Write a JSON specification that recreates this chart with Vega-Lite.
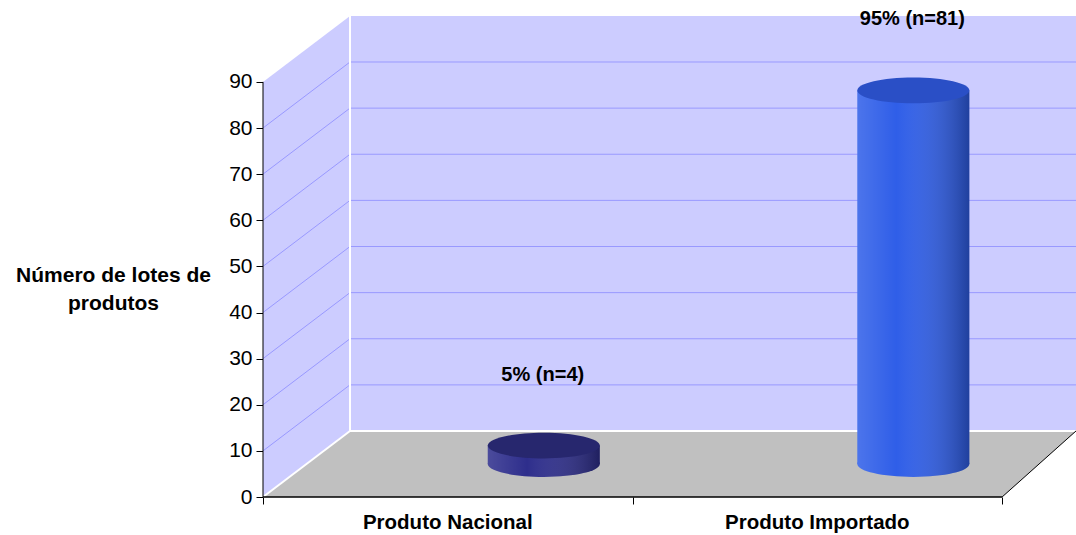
{
  "$schema": "https://vega.github.io/schema/vega-lite/v6.json",
  "width": 813,
  "height": 482,
  "autosize": {"type": "none"},
  "padding": {"left": 263, "top": 15, "right": 0, "bottom": 38},
  "background": "white",
  "config": {"view": {"stroke": null}, "font": "Liberation Sans"},
  "datasets": {
    "lotes": [
      {"categoria": "Produto Nacional", "lotes": 4, "rotulo": "5% (n=4)"},
      {"categoria": "Produto Importado", "lotes": 81, "rotulo": "95% (n=81)"}
    ],
    "grade": [{"v": 10}, {"v": 20}, {"v": 30}, {"v": 40}, {"v": 50}, {"v": 60}, {"v": 70}, {"v": 80}],
    "parede": [
      {"x": 0, "base": 0, "topo": 90},
      {"x": 0.2354, "base": 14.31, "topo": 104.31}
    ],
    "piso": [
      {"x": 0, "base": 0, "topo": 0},
      {"x": 0.2354, "base": 0, "topo": 14.31},
      {"x": 2, "base": 0, "topo": 14.31},
      {"x": 2.2, "base": 14.31, "topo": 14.31}
    ]
  },
  "layer": [
    {
      "layer": [
        {
          "data": {"values": [{}]},
          "mark": {"type": "rect", "fill": "#ccccff"},
          "encoding": {
            "x": {
              "datum": 0.2354, "type": "quantitative",
              "scale": {"domain": [0, 2.2], "nice": false, "zero": false},
              "axis": {"values": [0, 1, 2], "labels": false, "domain": false, "grid": false, "tickSize": 7, "tickColor": "#000000", "title": null}
            },
            "x2": {"datum": 2.2},
            "y": {
              "datum": 14.31, "type": "quantitative",
              "scale": {"domain": [0, 104.5], "nice": false},
              "axis": {
                "values": [0, 10, 20, 30, 40, 50, 60, 70, 80, 90],
                "domain": false, "grid": false,
                "tickSize": 7, "tickColor": "#000000",
                "labelFontSize": 21, "labelColor": "#000000", "labelPadding": 4, "labelFont": "Liberation Sans",
                "title": ["Número de lotes de", "produtos"],
                "titleAngle": 0, "titleFontSize": 21, "titleFontWeight": "bold", "titleColor": "#000000",
                "titleFont": "Liberation Sans", "titleAlign": "center", "titleBaseline": "middle",
                "titleX": -150, "titleY": 260, "titleLineHeight": 28
              }
            },
            "y2": {"datum": 104.31}
          }
        },
        {
          "data": {"name": "parede"},
          "mark": {"type": "area", "fill": "#ccccff", "orient": "vertical"},
          "encoding": {
            "x": {"field": "x", "type": "quantitative"},
            "y": {"field": "base", "type": "quantitative"},
            "y2": {"field": "topo"}
          }
        },
        {
          "data": {"name": "piso"},
          "mark": {"type": "area", "fill": "#c0c0c0", "orient": "vertical"},
          "encoding": {
            "x": {"field": "x", "type": "quantitative"},
            "y": {"field": "base", "type": "quantitative"},
            "y2": {"field": "topo"}
          }
        },
        {
          "data": {"name": "grade"},
          "mark": {"type": "rule", "stroke": "#9999ff", "strokeWidth": 1, "yOffset": -66},
          "encoding": {
            "x": {"datum": 0.2354, "type": "quantitative"},
            "x2": {"datum": 2.2},
            "y": {"field": "v", "type": "quantitative"}
          }
        },
        {
          "data": {"name": "grade"},
          "mark": {"type": "rule", "stroke": "#9999ff", "strokeWidth": 1, "y2Offset": -66},
          "encoding": {
            "x": {"datum": 0, "type": "quantitative"},
            "x2": {"datum": 0.2354},
            "y": {"field": "v", "type": "quantitative"},
            "y2": {"field": "v"}
          }
        },
        {
          "data": {"values": [{}]},
          "mark": {"type": "rule", "stroke": "#ffffff", "strokeWidth": 2},
          "encoding": {
            "x": {"datum": 0.2354, "type": "quantitative"},
            "y": {"datum": 14.31, "type": "quantitative"},
            "y2": {"datum": 104.31}
          }
        },
        {
          "data": {"values": [{}]},
          "mark": {"type": "rule", "stroke": "#ffffff", "strokeWidth": 2},
          "encoding": {
            "x": {"datum": 0.2354, "type": "quantitative"},
            "x2": {"datum": 2.2},
            "y": {"datum": 14.31, "type": "quantitative"}
          }
        },
        {
          "data": {"values": [{}]},
          "mark": {"type": "rule", "stroke": "#ffffff", "strokeWidth": 2},
          "encoding": {
            "x": {"datum": 0, "type": "quantitative"},
            "x2": {"datum": 0.2354},
            "y": {"datum": 0, "type": "quantitative"},
            "y2": {"datum": 14.31}
          }
        },
        {
          "data": {"values": [{}]},
          "mark": {"type": "rule", "stroke": "#000000", "strokeWidth": 1},
          "encoding": {
            "x": {"datum": 0, "type": "quantitative"},
            "y": {"datum": 0, "type": "quantitative"},
            "y2": {"datum": 90}
          }
        },
        {
          "data": {"values": [{}]},
          "mark": {"type": "rule", "stroke": "#000000", "strokeWidth": 1.5},
          "encoding": {
            "x": {"datum": 0, "type": "quantitative"},
            "x2": {"datum": 2},
            "y": {"datum": 0, "type": "quantitative"}
          }
        },
        {
          "data": {"values": [{}]},
          "mark": {"type": "rule", "stroke": "#000000", "strokeWidth": 1},
          "encoding": {
            "x": {"datum": 2, "type": "quantitative"},
            "x2": {"datum": 2.2},
            "y": {"datum": 0, "type": "quantitative"},
            "y2": {"datum": 14.31}
          }
        }
      ]
    },
    {
      "data": {"name": "lotes"},
      "encoding": {
        "x": {
          "field": "categoria", "type": "nominal", "sort": null,
          "scale": {"type": "band", "domain": ["Produto Nacional", "Produto Importado"], "range": [0, 739.1], "paddingInner": 0, "paddingOuter": 0},
          "axis": {"orient": "bottom", "ticks": false, "tickSize": 0, "domain": false, "grid": false, "labelAngle": 0, "labelFontSize": 20.5, "labelFontWeight": "bold", "labelColor": "#000000", "labelFont": "Liberation Sans", "labelPadding": 15, "labelLimit": 400, "title": null}
        }
      },
      "layer": [
        {
          "mark": {"type": "point", "shape": "M-1,0A1,0.23,0,1,0,1,0A1,0.23,0,1,0,-1,0Z", "size": 12544, "filled": true, "opacity": 1, "strokeWidth": 0, "xOffset": 96, "yOffset": -33},
          "encoding": {
            "y": {"datum": 0, "type": "quantitative"},
            "color": {"field": "categoria", "type": "nominal", "scale": {"domain": ["Produto Nacional", "Produto Importado"], "range": ["#2e2e8c", "#2f5ee8"]}, "legend": null}
          }
        },
        {
          "mark": {
            "type": "point", "shape": "M-1,0A1,0.23,0,1,0,1,0A1,0.23,0,1,0,-1,0Z", "size": 12544, "filled": true, "opacity": 1, "strokeWidth": 0, "xOffset": 96, "yOffset": -33,
            "fill": {"gradient": "linear", "x1": 0, "x2": 1, "y1": 0, "y2": 0, "stops": [{"offset": 0, "color": "rgba(255,255,255,0.14)"}, {"offset": 0.35, "color": "rgba(255,255,255,0)"}, {"offset": 1, "color": "rgba(0,0,0,0.32)"}]}
          },
          "encoding": {"y": {"datum": 0, "type": "quantitative"}}
        },
        {
          "mark": {"type": "bar", "width": 112, "xOffset": 96, "yOffset": -33, "y2Offset": -33},
          "encoding": {
            "y": {"field": "lotes", "type": "quantitative"},
            "y2": {"datum": 0},
            "color": {"field": "categoria", "type": "nominal", "legend": null}
          }
        },
        {
          "mark": {
            "type": "bar", "width": 112, "xOffset": 96, "yOffset": -33, "y2Offset": -33,
            "fill": {"gradient": "linear", "x1": 0, "x2": 1, "y1": 0, "y2": 0, "stops": [{"offset": 0, "color": "rgba(255,255,255,0.14)"}, {"offset": 0.35, "color": "rgba(255,255,255,0)"}, {"offset": 1, "color": "rgba(0,0,0,0.32)"}]}
          },
          "encoding": {
            "y": {"field": "lotes", "type": "quantitative"},
            "y2": {"datum": 0}
          }
        },
        {
          "mark": {"type": "point", "shape": "M-1,0A1,0.23,0,1,0,1,0A1,0.23,0,1,0,-1,0Z", "size": 12544, "filled": true, "opacity": 1, "strokeWidth": 0, "xOffset": 96, "yOffset": -33},
          "encoding": {
            "y": {"field": "lotes", "type": "quantitative"},
            "fill": {"field": "categoria", "type": "nominal", "scale": {"domain": ["Produto Nacional", "Produto Importado"], "range": ["#27276e", "#2a4fc6"]}, "legend": null}
          }
        },
        {
          "mark": {"type": "text", "font": "Liberation Sans", "fontSize": 20, "fontWeight": "bold", "color": "#000000", "align": "center", "baseline": "middle", "xOffset": 95, "yOffset": -104},
          "encoding": {
            "y": {"field": "lotes", "type": "quantitative"},
            "text": {"field": "rotulo"}
          }
        }
      ]
    }
  ],
  "resolve": {"scale": {"x": "independent"}}
}
